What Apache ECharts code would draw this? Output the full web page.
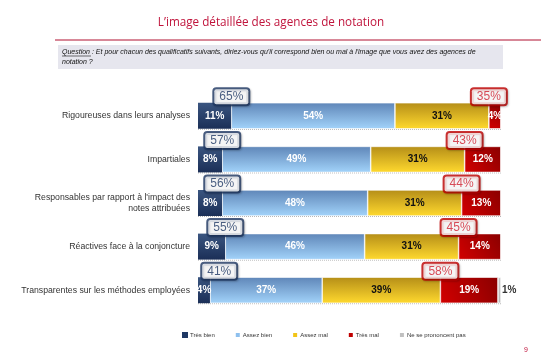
<!DOCTYPE html>
<html><head><meta charset="utf-8">
<script src="https://cdn.jsdelivr.net/npm/echarts@6/dist/echarts.min.js"></script>
<style>html,body{margin:0;padding:0;background:#fff}#c{width:541px;height:360px}</style>
</head><body><div id="c"></div>
<script>
const categories = [
  "Rigoureuses dans leurs analyses",
  "Impartiales",
  "Responsables par rapport à l'impact des\nnotes attribuées",
  "Réactives face à la conjoncture",
  "Transparentes sur les méthodes employées"
];
const seriesNames = ["Très bien", "Assez bien", "Assez mal", "Très mal", "Ne se prononcent pas"];
const tresBien   = [11, 8, 8, 9, 4];
const assezBien  = [54, 49, 48, 46, 37];
const assezMal   = [31, 31, 31, 31, 39];
const tresMal    = [4, 12, 13, 14, 19];
const nsp        = [0, 0, 0, 0, 1];
const totalBien  = [65, 57, 56, 55, 41];
const totalMal   = [35, 43, 44, 45, 58];

const chart = echarts.init(document.getElementById('c'));
const vgrad = (a, b) => new echarts.graphic.LinearGradient(0, 0, 0, 1, [{offset: 0, color: a}, {offset: 1, color: b}]);
const colors = [
  vgrad('#3A5580', '#1B2F57'),
  vgrad('#5F86B8', '#A2D3FA'),
  vgrad('#B58E18', '#FFD92E'),
  new echarts.graphic.LinearGradient(0, 1, 1, 0, [{offset: 0, color: '#D20000'}, {offset: 1, color: '#8A0000'}]),
  vgrad('#C8C8C8', '#B8B8B8')
];
const legendColors = ['#1F3864', '#8EC0EE', '#F2C417', '#C00000', '#C0C0C0'];
const values = [tresBien, assezBien, assezMal, tresMal, nsp];
const labelColors = ['#fff', '#fff', '#111', '#fff', '#333'];

const barSeries = seriesNames.map((n, i) => ({
  name: n, type: 'bar', stack: 'a', barWidth: 26,
  itemStyle: {color: colors[i], borderColor: '#fff', borderWidth: i === 0 ? 0 : 0.6},
  data: values[i],
  label: {
    show: true,
    position: i === 4 ? 'right' : 'inside',
    distance: 1,
    formatter: p => p.value > 0 ? p.value + '%' : '',
    color: labelColors[i], fontSize: 10, fontWeight: 'bold', fontFamily: 'Liberation Sans'
  },
  z: 3
}));

const boxLabel = (col, txt) => ({
  show: true, position: 'inside', offset: [0, -19],
  formatter: p => p.value[2] + '%',
  color: txt, fontSize: 12, fontFamily: 'Liberation Sans',
  backgroundColor: '#fff', borderColor: col, borderWidth: 2, borderRadius: 2,
  padding: [2, 5, 1, 5],
  shadowColor: 'rgba(0,0,0,0.25)', shadowBlur: 2, shadowOffsetX: 1, shadowOffsetY: 1
});

const posData = categories.map((c, i) => [Math.max(tresBien[i], 7), i, totalBien[i]]);
const negData = categories.map((c, i) => [tresBien[i] + assezBien[i] + assezMal[i], i, totalMal[i]]);

const sepSeries = {
  type: 'custom', silent: true, z: 1,
  data: categories.map((c, i) => [i]),
  renderItem: (params, api) => {
    const i = api.value(0);
    const p0 = api.coord([0, i]);
    const p1 = api.coord([100, i]);
    const y = p0[1] + 13.5;
    return {type: 'line', shape: {x1: p0[0], y1: y, x2: p1[0] + 1, y2: y},
      style: {stroke: '#B0B0B0', lineWidth: 1, lineDash: [1, 1]}};
  }
};

chart.setOption({
  animation: false,
  title: {
    text: "L\u2019image détaillée des agences de notation",
    left: 266, top: 12, textAlign: 'center',
    textStyle: {color: '#C0143C', fontSize: 11.7, fontWeight: 'normal', fontFamily: 'Open Sans'}
  },
  graphic: [
    {type: 'line', shape: {x1: 55, y1: 40, x2: 541, y2: 40}, style: {stroke: '#B01030', lineWidth: 1}},
    {type: 'rect', shape: {x: 58, y: 45, width: 445, height: 24}, style: {fill: '#E6E6EE'}},
    {type: 'text', x: 62, y: 47, style: {
      text: "Question : Et pour chacun des qualificatifs suivants, diriez-vous qu'il correspond bien ou mal à l'image que vous avez des agences de\nnotation ?",
      fontSize: 7, fontStyle: 'italic', fontFamily: 'Liberation Sans', fill: '#111', lineHeight: 10}},
    {type: 'line', shape: {x1: 62, y1: 56, x2: 91, y2: 56}, style: {stroke: '#111', lineWidth: 0.6}},
    {type: 'text', x: 524, y: 347, style: {text: '9', fontSize: 7, fill: '#C0143C', fontFamily: 'Liberation Sans'}}
  ],
  legend: {
    data: seriesNames.map((n, i) => ({name: n, itemStyle: {color: legendColors[i]}})),
    left: 177, top: 326, itemWidth: 6, itemHeight: 6, itemGap: 19, icon: 'rect',
    textStyle: {fontSize: 6, color: '#333', fontFamily: 'Liberation Sans', padding: [0, 0, 0, -3]}
  },
  grid: {left: 198, right: 40, top: 94, bottom: 48, containLabel: false},
  xAxis: {type: 'value', min: 0, max: 100, show: false},
  yAxis: {
    type: 'category', data: categories, inverse: true,
    axisLine: {show: false}, axisTick: {show: false}, splitLine: {show: false},
    axisLabel: {fontSize: 8.7, color: '#333', margin: 8, fontFamily: 'Liberation Sans', lineHeight: 11}
  },
  series: barSeries.concat([
    sepSeries,
    {type: 'scatter', symbolSize: 1, data: posData, label: boxLabel('#1F3864', '#1F3864'), z: 10,
      itemStyle: {color: 'rgba(0,0,0,0)'}, silent: true},
    {type: 'scatter', symbolSize: 1, data: negData, label: boxLabel('#C00000', '#D02030'), z: 10,
      itemStyle: {color: 'rgba(0,0,0,0)'}, silent: true}
  ])
});
</script></body></html>
